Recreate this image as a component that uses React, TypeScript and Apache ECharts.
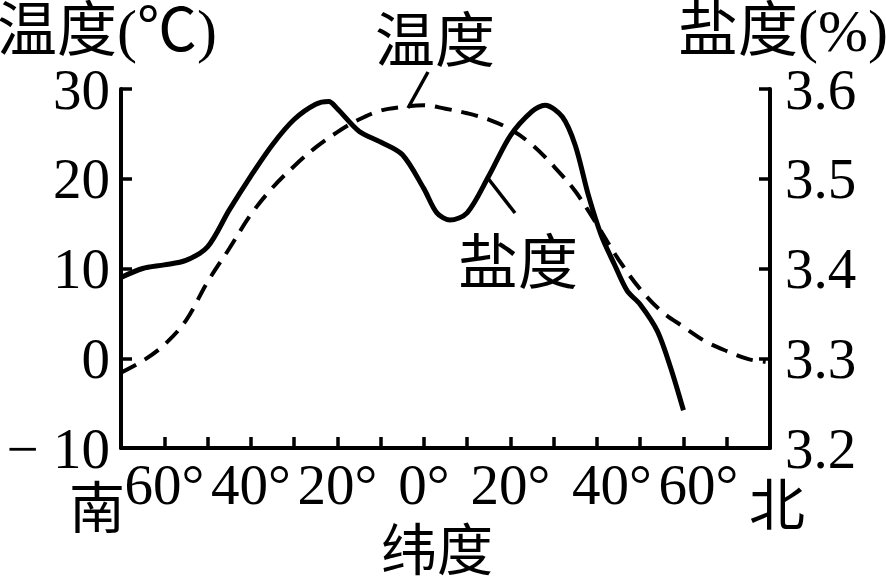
import React, { useEffect, useRef } from "react";
import * as echarts from "echarts";

// Latitude (negative = south) and temperature (°C), dashed curve
const tempLat = [-70, -65, -60, -55, -50, -45, -40, -35, -30, -25, -20, -15, -10, -5, 0, 5, 10, 15, 20, 25, 30, 35, 40, 45, 50, 55, 60, 65, 70, 75, 79];
const tempValues = [-1.6, -0.3, 1.5, 4.2, 8.5, 12.2, 16, 19, 21.4, 23.5, 25.2, 26.6, 27.6, 28.0, 28.2, 27.8, 27.3, 26.6, 25.5, 23.8, 21.4, 18.6, 14.9, 11.0, 7.7, 5.2, 3.5, 1.9, 0.8, -0.1, -0.4];

// Latitude and salinity (%), solid curve
const salLat = [-70, -65, -60, -55, -50, -45, -40, -35, -30, -25, -22, -20, -15, -10, -5, 0, 3, 6, 10, 15, 20, 25, 28, 32, 35, 38, 41, 44, 47, 50, 54, 57, 60];
const salValues = [3.39, 3.4, 3.404, 3.409, 3.424, 3.465, 3.503, 3.538, 3.566, 3.583, 3.586, 3.578, 3.553, 3.541, 3.527, 3.489, 3.462, 3.454, 3.462, 3.503, 3.548, 3.575, 3.582, 3.569, 3.537, 3.482, 3.437, 3.405, 3.375, 3.36, 3.33, 3.29, 3.242];

// Tick labels
const latTickValues = [-60, -40, -20, 0, 20, 40, 60];
const latTickLabels = ["60°", "40°", "20°", "0°", "20°", "40°", "60°"];
const tempTickValues = [-10, 0, 10, 20, 30];
const tempTickLabels = ["− 10", "0", "10", "20", "30"];

const NUM = "'Liberation Serif', 'Times New Roman', 'Noto Sans CJK SC', serif";
const CJK = "'Noto Sans CJK SC', 'Liberation Serif', sans-serif";

export default function App() {
  const ref = useRef<HTMLDivElement>(null);
  useEffect(() => {
    if (!ref.current) return;
    const chart = echarts.init(ref.current, null, { renderer: "svg" });
    const axisLine = { show: true, onZero: false, lineStyle: { color: "#000", width: 4 } };
    const tick = { show: true, inside: true, length: 11, lineStyle: { color: "#000", width: 3.5 } };
    chart.setOption({
      animation: false,
      backgroundColor: "#fff",
      grid: { left: 121, right: 116, top: 89, bottom: 130, containLabel: false, outerBoundsMode: "none" },
      xAxis: {
        type: "value",
        min: -70,
        max: 80,
        interval: 10,
        axisLine,
        axisTick: tick,
        splitLine: { show: false },
        axisLabel: {
          margin: 8,
          fontSize: 57,
          fontFamily: NUM,
          color: "#000",
          formatter: (v: number) => {
            const r = Math.round(v);
            const i = latTickValues.indexOf(r);
            if (i < 0) return "";
            return r >= 40 ? `{n|${latTickLabels[i]}}` : latTickLabels[i];
          },
          rich: {
            n: { fontSize: 57, fontFamily: NUM, color: "#000", padding: [0, 0, 0, 30] },
          },
        },
        name: "纬度",
        nameLocation: "middle",
        nameGap: 60,
        nameTextStyle: { fontSize: 56, fontFamily: CJK, color: "#000", padding: [0, 17, 0, 0] },
      },
      yAxis: [
        {
          type: "value",
          position: "left",
          min: -10,
          max: 30,
          interval: 10,
          axisLine,
          axisTick: tick,
          splitLine: { show: false },
          axisLabel: {
            margin: 11,
            fontSize: 57,
            fontFamily: NUM,
            color: "#000",
            formatter: (v: number) => {
              const i = tempTickValues.indexOf(Math.round(v));
              return i >= 0 ? tempTickLabels[i] : "";
            },
          },
          name: "温度(℃)",
          nameLocation: "end",
          nameGap: 20,
          nameTextStyle: { fontSize: 60, fontFamily: NUM, color: "#000", padding: [0, 28, 0, 0] },
        },
        {
          type: "value",
          position: "right",
          min: 3.2,
          max: 3.6,
          interval: 0.1,
          axisLine,
          axisTick: tick,
          splitLine: { show: false },
          axisLabel: {
            margin: 15,
            fontSize: 57,
            fontFamily: NUM,
            color: "#000",
            formatter: (v: number) => v.toFixed(1),
          },
          name: "盐度(%)",
          nameLocation: "end",
          nameGap: 20,
          nameTextStyle: { fontSize: 60, fontFamily: NUM, color: "#000", padding: [0, 0, 0, 26] },
        },
      ],
      series: [
        {
          name: "温度",
          type: "line",
          yAxisIndex: 0,
          smooth: 0.35,
          symbol: "none",
          data: tempLat.map((x, i) => [x, tempValues[i]]),
          lineStyle: { color: "#000", width: 4, type: [17, 10] },
        },
        {
          name: "盐度",
          type: "line",
          yAxisIndex: 1,
          smooth: 0.3,
          symbol: "none",
          data: salLat.map((x, i) => [x, salValues[i]]),
          lineStyle: { color: "#000", width: 5 },
        },
      ],
      graphic: [
        { type: "text", x: 435, y: 35, style: { text: "温度", font: `60px ${CJK}`, fill: "#000", align: "center", verticalAlign: "middle" } },
        { type: "line", shape: { x1: 428, y1: 72, x2: 408, y2: 108 }, style: { stroke: "#000", lineWidth: 3.5 } },
        { type: "text", x: 518, y: 257, style: { text: "盐度", font: `60px ${CJK}`, fill: "#000", align: "center", verticalAlign: "middle" } },
        { type: "line", shape: { x1: 487, y1: 177, x2: 515, y2: 213 }, style: { stroke: "#000", lineWidth: 3.5 } },
        { type: "text", x: 97, y: 503, style: { text: "南", font: `56px ${CJK}`, fill: "#000", align: "center", verticalAlign: "middle" } },
        { type: "text", x: 777, y: 500, style: { text: "北", font: `56px ${CJK}`, fill: "#000", align: "center", verticalAlign: "middle" } },
      ],
    });
    return () => chart.dispose();
  }, []);
  return (
    <div
      ref={ref}
      style={{ position: "fixed", left: 0, top: 0, width: 886, height: 578, background: "#fff" }}
    />
  );
}
